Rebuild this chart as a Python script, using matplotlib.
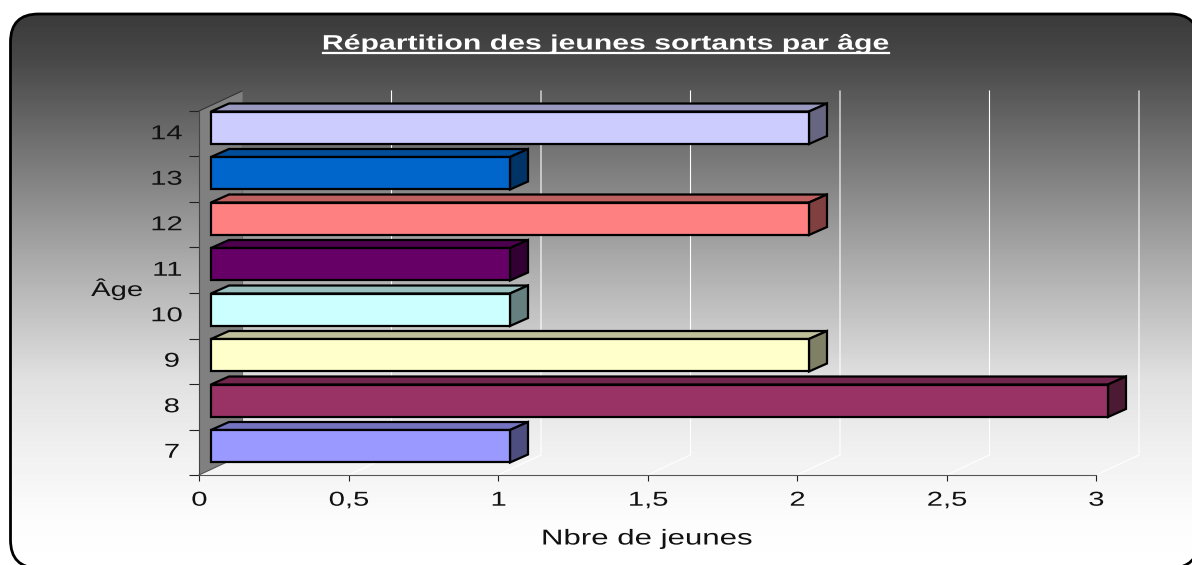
import matplotlib
matplotlib.use("Agg")
import matplotlib.pyplot as plt
from matplotlib.backends.backend_agg import RendererAgg
from matplotlib.patches import FancyBboxPatch, Polygon
from matplotlib.colors import to_rgb
from matplotlib.lines import Line2D
from matplotlib.textpath import TextPath
from matplotlib.transforms import Affine2D
import numpy as np

# chart values
ages = ["7", "8", "9", "10", "11", "12", "13", "14"]
counts = [1, 3, 2, 1, 1, 2, 1, 2]
x_ticks = [0, 0.5, 1, 1.5, 2, 2.5, 3]
x_tick_labels = ["0", "0,5", "1", "1,5", "2", "2,5", "3"]
bar_colors = ["#9999FF", "#993366", "#FFFFCC", "#CCFFFF", "#660066", "#FF8080", "#0066CC", "#CCCCFF"]

W, H = 1192, 565
TEXT_STRETCH = 1.45


# the original picture was resized wider, so all text is drawn stretched about its centre
def draw_wide_text(self, gc, x, y, s, prop, angle, ismath=False, mtext=None):
    path = TextPath((0, 0), s, prop=prop)
    w = path.get_extents().width
    k = self.dpi / 72
    wide = (Affine2D().translate(-w / 2, 0).scale(TEXT_STRETCH, 1).translate(w / 2, 0)
            .scale(k).translate(x, self.height - y))
    gc.set_linewidth(0.0)
    self.draw_path(gc, path, wide, rgbFace=gc.get_rgb())


RendererAgg.draw_text = draw_wide_text

plt.rcParams["font.family"] = ["Liberation Sans"]
fig = plt.figure(figsize=(W / 100, H / 100), dpi=100, facecolor="white")

# background panel, pixel coords with y pointing down
bg = fig.add_axes([0, 0, 1, 1])
bg.set_xlim(0, W)
bg.set_ylim(H, 0)
bg.axis("off")
rows = np.arange(H)
grey = np.interp(rows, [13, 60, 260, 380, 450, 520, 565], [58, 72, 170, 225, 240, 252, 255]) / 255
img = bg.imshow(grey[:, None], cmap="gray", vmin=0, vmax=1, extent=[0, W, H, 0], aspect="auto", zorder=1)
# panel runs off the canvas, agg bends curves clipped there so flatten it to a polygon first
box = FancyBboxPatch((10.5, 14), 1188, 554, boxstyle="round,pad=0,rounding_size=28")
panel = Polygon(box.get_path().to_polygons()[0], closed=True, facecolor="none", edgecolor="black",
                linewidth=2, zorder=2)
bg.add_patch(panel)
img.set_clip_path(panel)

# front plane of the 3d box
ax = fig.add_axes([199 / W, 1 - 475 / H, 897 / W, 364 / H])
ax.patch.set_visible(False)
ax.set_xlim(0, 3)
ax.set_ylim(-0.5, 7.5)

# depth of the box in data units
px_x = 3 / 897
px_y = 8 / 364
depth_x = 43 * px_x
depth_y = 20 * px_y

# left wall and back gridlines
ax.add_patch(Polygon([(0, -0.5), (depth_x, -0.5 + depth_y), (depth_x, 7.5 + depth_y), (0, 7.5)],
                     facecolor="#808080", edgecolor="none", clip_on=False, zorder=1))
ax.add_line(Line2D([0, depth_x], [7.5, 7.5 + depth_y], color="#333333", lw=0.8, clip_on=False, zorder=2))
ax.add_line(Line2D([0, depth_x], [-0.5, -0.5 + depth_y], color="#555555", lw=0.8, clip_on=False, zorder=2))
for t in x_ticks[1:]:
    ax.plot([t, t + depth_x, t + depth_x], [-0.5, -0.5 + depth_y, 7.5 + depth_y],
            color="white", lw=0.8, clip_on=False, zorder=1)
ax.plot([depth_x, depth_x], [-0.5 + depth_y, 7.5 + depth_y], color="#6e6e6e", lw=0.8, clip_on=False, zorder=1)

# bars, front face through barh, top and side faces from the same values
front_x = 12 * px_x
front_y = 6 * px_y
bar_dx = 18 * px_x
bar_dy = 8 * px_y
bar_h = 0.714
ypos = np.arange(len(ages))
ax.barh(ypos + front_y, counts, left=front_x, height=bar_h, color=bar_colors,
        edgecolor="black", linewidth=1.6, clip_on=False, zorder=4)
for y, v, c in zip(ypos, counts, bar_colors):
    rgb = np.array(to_rgb(c))
    x0 = front_x
    x1 = front_x + v
    top = y + front_y + bar_h / 2
    low = y + front_y - bar_h / 2
    ax.add_patch(Polygon([(x0, top), (x1, top), (x1 + bar_dx, top + bar_dy), (x0 + bar_dx, top + bar_dy)],
                         facecolor=rgb * 0.75, edgecolor="black", linewidth=1.6, clip_on=False, zorder=3))
    ax.add_patch(Polygon([(x1, low), (x1 + bar_dx, low + bar_dy), (x1 + bar_dx, top + bar_dy), (x1, top)],
                         facecolor=rgb * 0.5, edgecolor="black", linewidth=1.6, clip_on=False, zorder=3))

# axes
for s in ["top", "right"]:
    ax.spines[s].set_visible(False)
ax.spines["left"].set_color("#444444")
ax.spines["bottom"].set_color("#555555")
ax.spines["left"].set_zorder(5)
ax.spines["bottom"].set_zorder(5)
ax.set_xticks(x_ticks)
ax.set_xticklabels(x_tick_labels, fontsize=14.5, color="#111111")
ax.set_yticks(ypos)
ax.set_yticklabels(ages, fontsize=14.5, color="#111111", va="center")
ax.set_yticks(np.arange(-0.5, 8), minor=True)
ax.tick_params(axis="x", length=4.3, width=0.8, color="#222222", pad=7)
ax.tick_params(axis="y", which="major", length=0, pad=15.8)
ax.tick_params(axis="y", which="minor", length=7.2, width=0.8, color="#222222")

# titles
bg.text(606, 44, "Répartition des jeunes sortants par âge", color="white", fontsize=15,
        fontweight="bold", ha="center", va="center", zorder=5)
bg.plot([323, 889], [52.5, 52.5], color="white", lw=1.6, zorder=5)
bg.text(646, 539, "Nbre de jeunes", color="#111111", fontsize=15.5, ha="center", va="center", zorder=5)
bg.text(117, 289, "Âge", color="#111111", fontsize=14.5, ha="center", va="center", zorder=5)

fig.savefig("out.png", dpi=100, facecolor="white")
